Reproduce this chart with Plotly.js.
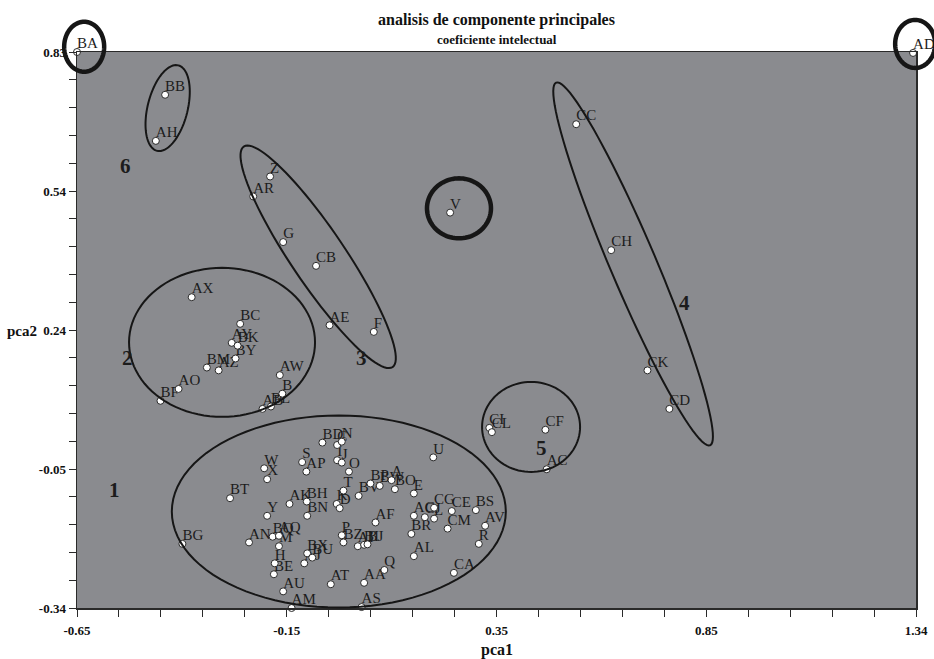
<!DOCTYPE html>
<html><head><meta charset="utf-8">
<script src="https://cdn.plot.ly/plotly-3.0.1.min.js"></script>
<style>html,body{margin:0;padding:0;background:#fff}#chart{width:934px;height:659px}</style>
</head><body><div id="chart"></div>
<script>
// ---- data ----
const labels = ['BA','AD','BB','AH','Z','AR','V','CC','G','CB','CH','AX','BC','AE','F','AY','BK','BY','BM','AZ','AO','BF','AW','B','AB','BL','CK','CD','CI','CL','CF','AC','U','BD','C','N','I','J','O','S','AP','T','K','D','BV','BP','BW','A','BO','E','AK','BH','BN','AF','AG','CJ','CG','L','CE','BS','CM','AV','R','BR','AL','CA','P','BZ','AI','BI','BJ','BX','BU','AJ','AT','AA','Q','AS','AM','W','X','BT','Y','BG','AN','BQ','AQ','M','H','BE','AU'];
const pca1 = [-0.650,1.333,-0.441,-0.463,-0.192,-0.232,0.235,0.534,-0.161,-0.083,0.617,-0.378,-0.263,-0.051,0.054,-0.283,-0.269,-0.274,-0.342,-0.314,-0.409,-0.452,-0.169,-0.163,-0.210,-0.190,0.703,0.755,0.328,0.334,0.461,0.464,0.195,-0.068,-0.033,-0.022,-0.033,-0.022,-0.005,-0.116,-0.106,-0.018,-0.034,-0.027,0.018,0.046,0.068,0.096,0.104,0.149,-0.146,-0.105,-0.104,0.058,0.149,0.175,0.197,0.197,0.239,0.296,0.229,0.318,0.303,0.143,0.149,0.244,-0.022,-0.018,0.016,0.031,0.039,-0.104,-0.092,-0.111,-0.048,0.031,0.079,0.025,-0.141,-0.206,-0.199,-0.287,-0.199,-0.400,-0.242,-0.186,-0.171,-0.171,-0.181,-0.183,-0.161];
const pca2 = [0.830,0.828,0.740,0.643,0.568,0.526,0.492,0.678,0.430,0.380,0.413,0.314,0.258,0.255,0.241,0.218,0.212,0.185,0.166,0.160,0.121,0.096,0.150,0.111,0.079,0.084,0.160,0.079,0.039,0.030,0.035,-0.048,-0.023,0.008,0.003,0.010,-0.029,-0.034,-0.053,-0.033,-0.053,-0.093,-0.121,-0.130,-0.104,-0.078,-0.083,-0.071,-0.090,-0.099,-0.121,-0.116,-0.146,-0.160,-0.146,-0.149,-0.129,-0.152,-0.136,-0.134,-0.173,-0.167,-0.205,-0.184,-0.231,-0.266,-0.187,-0.202,-0.210,-0.207,-0.206,-0.225,-0.234,-0.246,-0.290,-0.287,-0.260,-0.338,-0.340,-0.046,-0.069,-0.109,-0.146,-0.205,-0.202,-0.190,-0.188,-0.210,-0.246,-0.269,-0.305];

const groupNames = ['1','2','3','4','5','6'];
const groupX = [-0.560,-0.531,0.024,0.792,0.451,-0.536];
const groupY = [-0.092,0.186,0.186,0.302,-0.003,0.590];

const xTickLabels = ['-0.65','-0.15','0.35','0.85','1.34'];
const yTickLabels = ['-0.34','-0.05','0.24','0.54','0.83'];
const xRange = [-0.65, 1.34];
const yRange = [-0.34, 0.83];

// ---- layout geometry ----
const W = 934, H = 659;
const M = {l: 77, r: 18, t: 52, b: 51};
const PW = W - M.l - M.r, PH = H - M.t - M.b;

// ellipse outlines: centre in data units, radii in px, angle in degrees (screen, clockwise)
const ellipses = [
  {cx: -0.029, cy: -0.137, rx: 167, ry: 96, ang: 0, w: 2},
  {cx: -0.306, cy: 0.219, rx: 93, ry: 74.5, ang: 0, w: 2},
  {cx: -0.078, cy: 0.399, rx: 133, ry: 27, ang: 56, w: 2},
  {cx: 0.669, cy: 0.384, rx: 197, ry: 23, ang: 67, w: 2},
  {cx: 0.427, cy: 0.041, rx: 49, ry: 45, ang: 0, w: 2},
  {cx: -0.435, cy: 0.712, rx: 44, ry: 20, ang: -76, w: 2},
  {cx: -0.633, cy: 0.841, rx: 20, ry: 25, ang: 0, w: 4.5},
  {cx: 1.338, cy: 0.847, rx: 20, ry: 24, ang: 0, w: 4.5},
  {cx: 0.256, cy: 0.501, rx: 32, ry: 30, ang: 0, w: 4.5}
];

function ellipsePath(e) {
  const cxp = (e.cx - xRange[0]) / (xRange[1] - xRange[0]) * PW;
  const cyp = (e.cy - yRange[0]) / (yRange[1] - yRange[0]) * PH;
  const th = e.ang * Math.PI / 180;
  let d = '';
  const n = 96;
  for (let i = 0; i <= n; i++) {
    const t = 2 * Math.PI * i / n;
    const dx = e.rx * Math.cos(t) * Math.cos(th) - e.ry * Math.sin(t) * Math.sin(th);
    const dyDown = e.rx * Math.cos(t) * Math.sin(th) + e.ry * Math.sin(t) * Math.cos(th);
    const px = (cxp + dx) / PW, py = (cyp - dyDown) / PH;
    d += (i === 0 ? 'M' : 'L') + px.toFixed(5) + ',' + py.toFixed(5);
  }
  return d + 'Z';
}

const shapes = ellipses.map(e => ({
  type: 'path', xref: 'paper', yref: 'paper', path: ellipsePath(e),
  line: {color: '#161616', width: e.w}, layer: 'above'
}));

function ticks(r, n) { const v = []; for (let i = 0; i <= n; i++) v.push(r[0] + (r[1] - r[0]) * i / n); return v; }
function tickText(lbls, n) { const t = []; for (let i = 0; i <= n; i++) t.push(i % 5 === 0 ? lbls[i / 5] : ''); return t; }

const serif = 'Liberation Serif, Times New Roman, serif';

const traces = [
  {
    type: 'scatter', mode: 'text', x: pca1, y: pca2, text: labels,
    textposition: 'top right', cliponaxis: false,
    textfont: {family: serif, size: 15, color: '#1c1c1c'},
    hoverinfo: 'skip', showlegend: false
  },
  {
    type: 'scatter', mode: 'markers', x: pca1, y: pca2, text: labels, cliponaxis: false,
    marker: {size: 7, color: '#ffffff', line: {color: '#2a2a2a', width: 1}},
    hoverinfo: 'text', showlegend: false
  }
];

const annotations = groupNames.map((g, i) => ({
  x: groupX[i], y: groupY[i], xref: 'x', yref: 'y', text: g, showarrow: false,
  xanchor: 'center', yanchor: 'middle',
  font: {family: serif, size: 21, color: '#1c1c1c', weight: 'bold'}
}));
annotations.push(
  {x: 0.5, y: 1 + 32 / PH, xref: 'paper', yref: 'paper', text: 'analisis de componente principales', showarrow: false,
   xanchor: 'center', yanchor: 'middle', font: {family: serif, size: 16, color: '#111', weight: 'bold'}},
  {x: 0.5, y: 1 + 12 / PH, xref: 'paper', yref: 'paper', text: 'coeficiente intelectual', showarrow: false,
   xanchor: 'center', yanchor: 'middle', font: {family: serif, size: 13, color: '#111', weight: 'bold'}},
  {x: 0.5, y: -42 / PH, xref: 'paper', yref: 'paper', text: 'pca1', showarrow: false,
   xanchor: 'center', yanchor: 'middle', font: {family: serif, size: 16, color: '#111', weight: 'bold'}},
  {x: -55 / PW, y: 0.498, xref: 'paper', yref: 'paper', text: 'pca2', showarrow: false,
   xanchor: 'center', yanchor: 'middle', font: {family: serif, size: 15, color: '#111', weight: 'bold'}}
);

const axisCommon = {
  showgrid: false, zeroline: false, showline: true, mirror: true,
  linecolor: '#2a2a2a', linewidth: 1.5, ticks: 'outside', ticklen: 7, tickwidth: 1,
  tickcolor: '#2a2a2a', tickmode: 'array',
  tickfont: {family: serif, size: 13, color: '#111', weight: 'bold'}
};

const layout = {
  width: W, height: H, margin: M,
  paper_bgcolor: '#ffffff', plot_bgcolor: '#8a8b8f',
  xaxis: Object.assign({}, axisCommon, {range: xRange, tickvals: ticks(xRange, 20), ticktext: tickText(xTickLabels, 20), ticklabelstandoff: 3}),
  yaxis: Object.assign({}, axisCommon, {range: yRange, tickvals: ticks(yRange, 20), ticktext: tickText(yTickLabels, 20), ticklabelstandoff: 0}),
  shapes: shapes, annotations: annotations, showlegend: false
};

Plotly.newPlot('chart', traces, layout, {staticPlot: true});
</script>
</body></html>
